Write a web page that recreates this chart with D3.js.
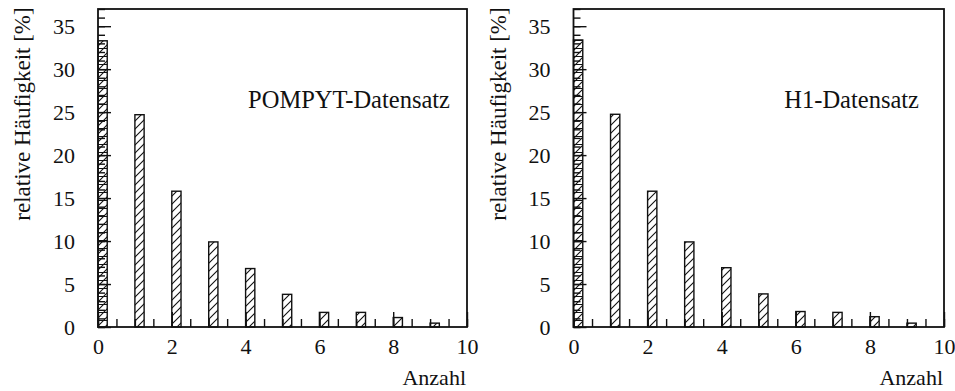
<!DOCTYPE html>
<html>
<head>
<meta charset="utf-8">
<script src="https://cdn.jsdelivr.net/npm/d3@7"></script>
<style>
  html, body { margin: 0; padding: 0; background: #fff; }
  svg { display: block; }
</style>
</head>
<body>
<svg id="chart" width="955" height="391"></svg>
<script>
// Number of entries per event (0..9) and their relative frequency in percent
const counts = [0, 1, 2, 3, 4, 5, 6, 7, 8, 9];
const pompytPct = [33.3, 24.7, 15.8, 9.9, 6.8, 3.8, 1.7, 1.7, 1.1, 0.45];
const h1Pct = [33.4, 24.75, 15.8, 9.9, 6.9, 3.85, 1.8, 1.7, 1.2, 0.45];

const xMajorTicks = [0, 2, 4, 6, 8, 10];
const yMajorTicks = [0, 5, 10, 15, 20, 25, 30, 35];

const FONT = "'Liberation Serif', 'Times New Roman', Times, serif";
const INK = "#111";

const panels = [
  { label: "POMPYT-Datensatz", values: pompytPct, left: 98, right: 467, labelEnd: 450, titleX: 30 },
  { label: "H1-Datensatz", values: h1Pct, left: 573.5, right: 944, labelEnd: 919, titleX: 506 }
];

const frameTop = 9, frameBottom = 327;
const binWidth = 0.25;

const svg = d3.select("#chart");

// hatch patterns: plain diagonal, and diagonal + horizontal for the first bin
const defs = svg.append("defs");
const diag = defs.append("pattern")
  .attr("id", "hatch").attr("patternUnits", "userSpaceOnUse")
  .attr("width", 8).attr("height", 8);
diag.append("rect").attr("width", 8).attr("height", 8).attr("fill", "#fff");
diag.append("path").attr("d", "M-2,2 l4,-4 M0,8 l8,-8 M6,10 l4,-4")
  .attr("stroke", INK).attr("stroke-width", 1.1);

const cross = defs.append("pattern")
  .attr("id", "hatch0").attr("patternUnits", "userSpaceOnUse")
  .attr("width", 8).attr("height", 8);
cross.append("rect").attr("width", 8).attr("height", 8).attr("fill", "#fff");
cross.append("path").attr("d", "M-2,2 l4,-4 M0,8 l8,-8 M6,10 l4,-4 M0,0.5 h8")
  .attr("stroke", INK).attr("stroke-width", 1.1);

panels.forEach(p => {
  const x = d3.scaleLinear().domain([0, 10]).range([p.left, p.right]);
  const y = d3.scaleLinear().domain([0, 37]).range([frameBottom, frameTop]);
  const g = svg.append("g");

  // bars
  g.selectAll("rect.bar").data(counts).join("rect")
    .attr("class", "bar")
    .attr("x", d => x(d))
    .attr("width", d => x(d + binWidth) - x(d))
    .attr("y", (d, i) => y(p.values[i]))
    .attr("height", (d, i) => y(0) - y(p.values[i]))
    .attr("fill", (d, i) => i === 0 ? "url(#hatch0)" : "url(#hatch)")
    .attr("stroke", INK).attr("stroke-width", 1.4);

  const styleAxis = a => {
    a.select(".domain").remove();
    a.attr("font-family", FONT).attr("font-size", 22);
    a.selectAll("text").attr("fill", INK).attr("font-family", FONT);
    a.selectAll("line").attr("stroke", INK).attr("stroke-width", 1.4);
  };

  // x axis: minor ticks every 0.5, major ticks with labels every 2
  g.append("g").attr("transform", `translate(0,${frameBottom})`)
    .call(d3.axisBottom(x).tickValues(d3.range(0, 10.001, 0.5)).tickSize(-8).tickFormat(""))
    .call(styleAxis);
  g.append("g").attr("transform", `translate(0,${frameBottom})`)
    .call(d3.axisBottom(x).tickValues(xMajorTicks).tickSize(-15).tickPadding(11).tickFormat(d3.format("d")))
    .call(styleAxis);

  // y axis: minor ticks every 1, major ticks with labels every 5
  g.append("g").attr("transform", `translate(${p.left},0)`)
    .call(d3.axisLeft(y).tickValues(d3.range(0, 37.001, 1)).tickSize(-7).tickFormat(""))
    .call(styleAxis);
  g.append("g").attr("transform", `translate(${p.left},0)`)
    .call(d3.axisLeft(y).tickValues(yMajorTicks).tickSize(-13).tickPadding(23).tickFormat(d3.format("d")))
    .call(styleAxis);

  // frame
  g.append("rect")
    .attr("x", p.left).attr("y", frameTop)
    .attr("width", p.right - p.left).attr("height", frameBottom - frameTop)
    .attr("fill", "none").attr("stroke", INK).attr("stroke-width", 1.8);

  // dataset label
  g.append("text")
    .attr("x", p.labelEnd).attr("y", 108)
    .attr("text-anchor", "end").attr("font-size", 24.5)
    .attr("font-family", FONT).attr("fill", INK)
    .text(p.label);

  // axis titles
  g.append("text")
    .attr("x", p.right - 1).attr("y", 385)
    .attr("text-anchor", "end").attr("font-size", 22)
    .attr("font-family", FONT).attr("fill", INK)
    .text("Anzahl");

  g.append("text")
    .attr("transform", `translate(${p.titleX},${114}) rotate(-90)`)
    .attr("text-anchor", "middle").attr("font-size", 23)
    .attr("font-family", FONT).attr("fill", INK)
    .text("relative Häufigkeit [%]");
});
</script>
</body>
</html>
